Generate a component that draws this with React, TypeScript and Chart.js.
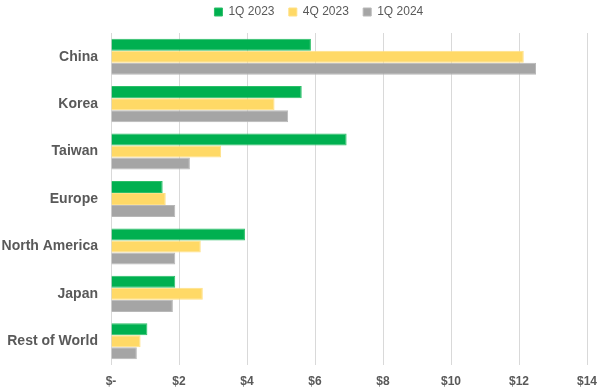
import React, { useEffect, useRef } from "react";
import { Chart, registerables } from "chart.js";

Chart.register(...registerables);

const categories = ["China", "Korea", "Taiwan", "Europe", "North America", "Japan", "Rest of World"];
const q1_2023 = [5.88, 5.61, 6.93, 1.52, 3.94, 1.89, 1.07];
const q4_2023 = [12.14, 4.81, 3.24, 1.61, 2.64, 2.7, 0.87];
const q1_2024 = [12.5, 5.21, 2.32, 1.89, 1.89, 1.82, 0.76];
const seriesNames = ["1Q 2023", "4Q 2023", "1Q 2024"];
const xTicks = [0, 2, 4, 6, 8, 10, 12, 14];

const legendShift = {
  id: "legendShift",
  afterLayout(chart: any) {
    const lg = chart.legend;
    if (!lg) return;
    lg.left += 27;
    lg.right += 27;
    lg.top -= 5;
    lg.bottom -= 5;
  },
};

export default function App() {
  const ref = useRef<HTMLCanvasElement | null>(null);
  useEffect(() => {
    if (!ref.current) return;
    const font = "'Liberation Sans', Arial, sans-serif";
    const chart = new Chart(ref.current, {
      type: "bar",
      data: {
        labels: categories,
        datasets: [
          { label: seriesNames[0], data: q1_2023, backgroundColor: "#00B050", borderColor: "#2DBF68", borderWidth: 1 },
          { label: seriesNames[1], data: q4_2023, backgroundColor: "#FFD966", borderColor: "#FFE085", borderWidth: 1 },
          { label: seriesNames[2], data: q1_2024, backgroundColor: "#A5A5A5", borderColor: "#B8B8B8", borderWidth: 1 },
        ],
      },
      plugins: [legendShift],
      options: {
        indexAxis: "y",
        animation: false,
        responsive: true,
        maintainAspectRatio: false,
        layout: { padding: { top: 0, right: 13, left: 0, bottom: 0 } },
        datasets: { bar: { categoryPercentage: 0.76, barPercentage: 1 } },
        plugins: {
          legend: {
            position: "top",
            labels: {
              boxWidth: 8,
              boxHeight: 8,
              padding: 11,
              color: "#595959",
              font: { family: font, size: 12 },
              generateLabels: (c: any) => {
                const items = Chart.defaults.plugins.legend.labels.generateLabels(c);
                return items.map((it: any) => ({ ...it, text: it.text + " " }));
              },
            },
          },
          tooltip: { enabled: false },
        },
        scales: {
          x: {
            min: 0,
            max: 14,
            afterBuildTicks: (scale: any) => {
              scale.ticks = xTicks.map((v) => ({ value: v }));
            },
            afterFit: (scale: any) => {
              scale.height = 23;
              scale.paddingLeft = 0;
              scale.paddingRight = 0;
            },
            grid: { color: "#D9D9D9", lineWidth: 1, drawTicks: false },
            border: { display: false },
            ticks: {
              padding: 9,
              color: "#595959",
              font: { family: font, size: 12, weight: "bold" },
              callback: (v: any) => (Number(v) === 0 ? "$-" : "$" + v),
            },
          },
          y: {
            grid: { display: false, drawTicks: false },
            border: { display: false },
            afterFit: (scale: any) => {
              scale.width = 111;
            },
            ticks: {
              padding: 13,
              color: "#595959",
              font: { family: font, size: 14, weight: "bold" },
            },
          },
        },
      },
    });
    return () => chart.destroy();
  }, []);
  return (
    <div style={{ position: "absolute", left: 0, top: 0, width: 600, height: 388, background: "#fff" }}>
      <canvas ref={ref} />
    </div>
  );
}
